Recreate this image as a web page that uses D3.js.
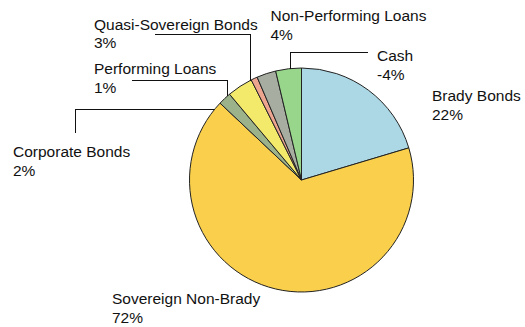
<!DOCTYPE html>
<html>
<head>
<meta charset="utf-8">
<script src="https://cdn.jsdelivr.net/npm/d3@7"></script>
<style>
  html, body { margin: 0; padding: 0; background: #fff; }
  svg { display: block; }
  text { font-family: "Liberation Sans", Arial, sans-serif; font-size: 15.5px; fill: #111; }
</style>
</head>
<body>
<svg id="chart" width="525" height="327"></svg>
<script>
// Portfolio allocation by asset type (percent of net assets)
const categories = ["Brady Bonds", "Sovereign Non-Brady", "Corporate Bonds", "Non-Performing Loans",
                    "Performing Loans", "Quasi-Sovereign Bonds", "Cash"];
const values = [22, 72, 2, 4, 1, 3, -4];
const colors = ["#acd8e5", "#f9cf4b", "#9bb28a", "#f3ea6c", "#eda590", "#a7ada0", "#98d78b"];

const svg = d3.select("#chart");
const cx = 301.5, cy = 180, r = 112;
const g = svg.append("g").attr("transform", `translate(${cx},${cy})`);

// Slices are sized by magnitude so the negative cash position still shows
const pie = d3.pie().sort(null).value(d => Math.abs(d.value));
const arc = d3.arc().innerRadius(0).outerRadius(r);
const data = categories.map((c, i) => ({ name: c, value: values[i], color: colors[i] }));
const arcs = pie(data);

g.selectAll("path.slice")
  .data(arcs)
  .enter().append("path")
  .attr("class", "slice")
  .attr("d", arc)
  .attr("fill", d => d.data.color)
  .attr("stroke", "#222")
  .attr("stroke-width", 1)
  .attr("stroke-linejoin", "round");

// Label layout: text anchor point plus the elbow of the leader line
const labelLayout = {
  "Brady Bonds":           { x: 432, y: 101 },
  "Sovereign Non-Brady":   { x: 112, y: 304 },
  "Corporate Bonds":       { x: 13,  y: 157, leader: { type: "h", x0: 75, y0: 133, y: 109.5 } },
  "Performing Loans":      { x: 94,  y: 74,  leader: { type: "v", x0: 132, y: 80.5, x: 227 } },
  "Quasi-Sovereign Bonds": { x: 94,  y: 29.5, leader: { type: "v", x0: 155, y: 34, x: 250 } },
  "Non-Performing Loans":  { x: 270.5, y: 21 },
  "Cash":                  { x: 377, y: 61,  leader: { type: "v", x0: 368, y: 52.5, x: 290 } }
};
const lineGap = 18.5;

const labels = svg.append("g");
data.forEach(d => {
  const L = labelLayout[d.name];
  const t = labels.append("text").attr("x", L.x).attr("y", L.y);
  t.append("tspan").attr("x", L.x).text(d.name);
  t.append("tspan").attr("x", L.x).attr("dy", lineGap).text(String(d.value) + "%");

  if (L.leader) {
    const ld = L.leader;
    let pts;
    if (ld.type === "v") {
      // horizontal run, then drop vertically onto the pie rim
      const dx = ld.x - cx;
      const rimY = cy - Math.sqrt(r * r - dx * dx);
      pts = [[ld.x0, ld.y], [ld.x, ld.y], [ld.x, rimY]];
    } else {
      // vertical rise, then horizontal run onto the pie rim
      const dy = ld.y - cy;
      const rimX = cx - Math.sqrt(r * r - dy * dy);
      pts = [[ld.x0, ld.y0], [ld.x0, ld.y], [rimX, ld.y]];
    }
    labels.append("path")
      .attr("d", d3.line()(pts))
      .attr("fill", "none")
      .attr("stroke", "#111")
      .attr("stroke-width", 1)
      .attr("shape-rendering", "crispEdges");
  }
});
</script>
</body>
</html>
